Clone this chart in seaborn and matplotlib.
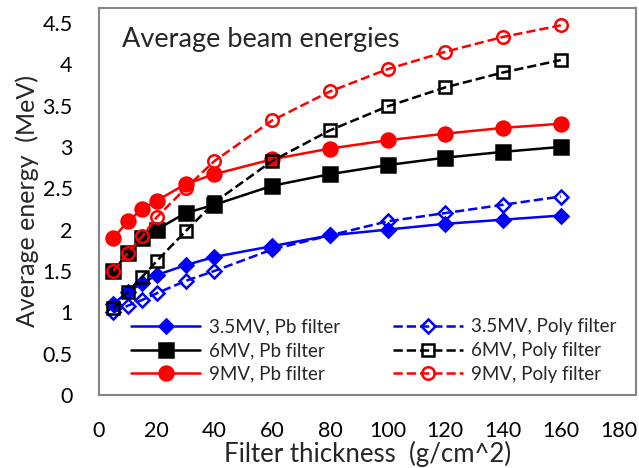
import matplotlib
matplotlib.use("Agg")
import matplotlib.pyplot as plt
import seaborn as sns
import pandas as pd

# Filter thickness (g/cm^2)
thickness = [5, 10, 15, 20, 30, 40, 60, 80, 100, 120, 140, 160]

# Average energy (MeV)
e35_pb   = [1.10, 1.25, 1.35, 1.45, 1.57, 1.67, 1.80, 1.93, 2.00, 2.07, 2.12, 2.17]
e35_poly = [1.00, 1.08, 1.15, 1.23, 1.38, 1.50, 1.76, 1.93, 2.10, 2.20, 2.30, 2.40]
e6_pb    = [1.50, 1.72, 1.90, 2.00, 2.20, 2.30, 2.53, 2.67, 2.78, 2.87, 2.94, 3.00]
e6_poly  = [1.05, 1.25, 1.43, 1.62, 1.98, 2.33, 2.83, 3.20, 3.49, 3.72, 3.90, 4.05]
e9_pb    = [1.90, 2.10, 2.25, 2.35, 2.55, 2.67, 2.85, 2.98, 3.08, 3.16, 3.23, 3.28]
e9_poly  = [1.50, 1.72, 1.92, 2.15, 2.50, 2.83, 3.32, 3.67, 3.94, 4.15, 4.33, 4.47]

labels = ["3.5MV, Pb filter", "6MV, Pb filter", "9MV, Pb filter",
          "3.5MV, Poly filter", "6MV, Poly filter", "9MV, Poly filter"]

sns.set_theme(style="white")
plt.rcParams["font.family"] = ["Lato", "DejaVu Sans"]

fig = plt.figure(figsize=(6.39, 4.68), dpi=100)
ax = fig.add_axes([0.155, 0.156, 0.84, 0.827])

series = [
    (e35_pb,   "#0000FF", "D", "-",  True,  7.5),
    (e6_pb,    "#000000", "s", "-",  True,  9.5),
    (e9_pb,    "#FF0000", "o", "-",  True,  10),
    (e35_poly, "#0000FF", "D", "--", False, 7),
    (e6_poly,  "#000000", "s", "--", False, 8.5),
    (e9_poly,  "#FF0000", "o", "--", False, 9),
]

for (vals, col, mk, ls, filled, ms), lab in zip(series, labels):
    df = pd.DataFrame({"x": thickness, "y": vals})
    kw = dict(marker=mk, markersize=ms, markeredgewidth=1.8,
              markeredgecolor=col,
              markerfacecolor=col if filled else "none",
              color=col, linewidth=1.8, linestyle=ls)
    if ls == "--":
        kw["dashes"] = (4, 3)
    sns.lineplot(data=df, x="x", y="y", ax=ax, label=lab, **kw)

ax.set_xlim(0, 186)
ax.set_ylim(0, 4.68)
ax.set_xticks(range(0, 181, 20))
ax.set_yticks([0, 0.5, 1, 1.5, 2, 2.5, 3, 3.5, 4, 4.5])
ax.set_yticklabels(["0", "0.5", "1", "1.5", "2", "2.5", "3", "3.5", "4", "4.5"])

for s in ax.spines.values():
    s.set_color("#858585")
    s.set_linewidth(1.5)

ax.tick_params(axis="both", direction="in", length=6, width=1.2,
               color="#858585", labelsize=15.5, labelcolor="black")
ax.tick_params(axis="x", pad=19)
ax.tick_params(axis="y", pad=19)

ax.set_xlabel("Filter thickness  (g/cm^2)", fontsize=18.5)
ax.set_ylabel("Average energy  (MeV)", fontsize=18)
ax.xaxis.set_label_coords(0.5, -0.118)
ax.yaxis.set_label_coords(-0.112, 0.5)

ax.text(0.043, 0.899, "Average beam energies", transform=ax.transAxes,
        fontsize=19.5, va="baseline", ha="left")

ax.legend(loc="upper left", bbox_to_anchor=(0.035, 0.232), ncol=2,
          frameon=False, fontsize=13.5, handlelength=3.7,
          handletextpad=0.45, columnspacing=2.85, labelspacing=0.36,
          borderpad=0.2)

fig.savefig("out.png", dpi=100)
